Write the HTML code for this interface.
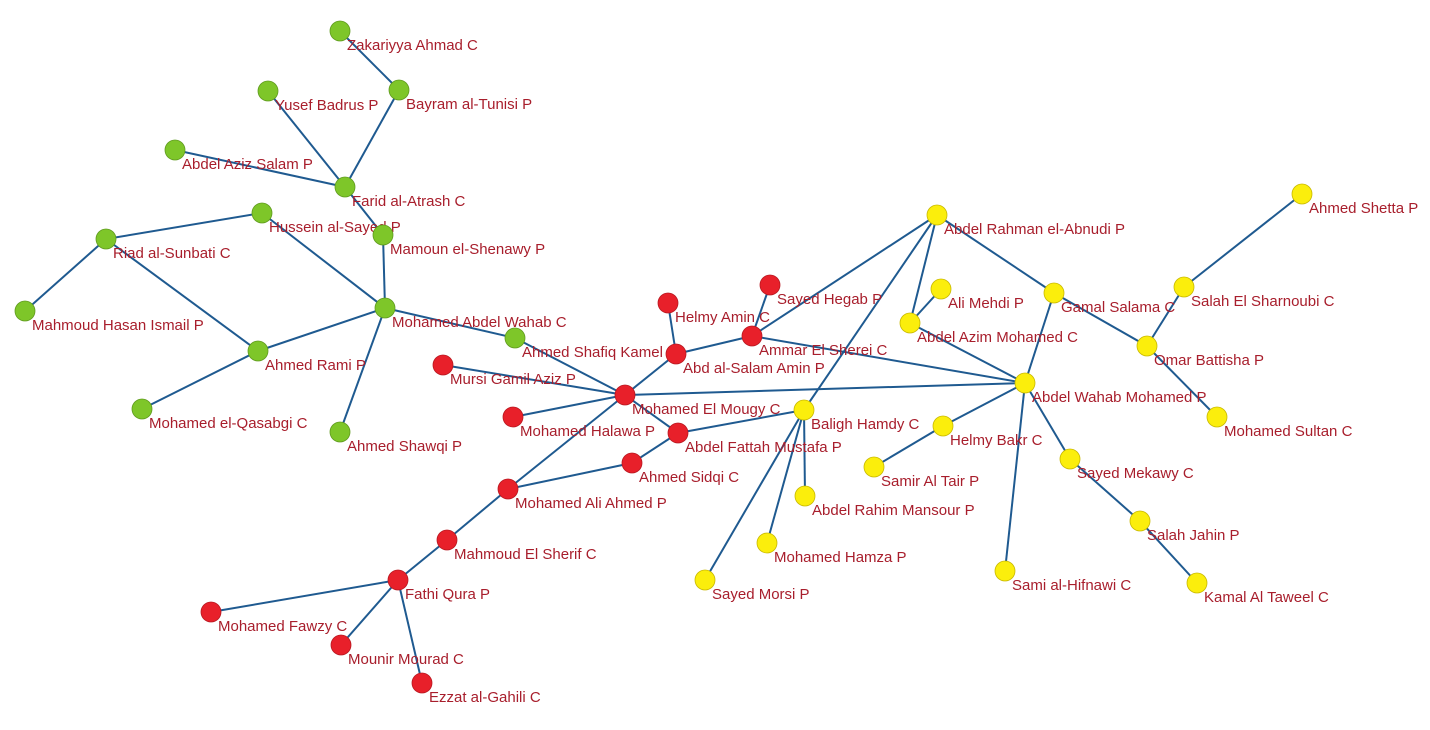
<!DOCTYPE html>
<html><head><meta charset="utf-8"><style>
html,body{margin:0;padding:0;background:#fff}
svg text{font-family:"Liberation Sans",sans-serif;font-size:15px;fill:#a81e2c}
</style></head><body>
<svg width="1430" height="725" xmlns="http://www.w3.org/2000/svg">
<g id="e" stroke="#1f5a90" stroke-width="2" fill="none"></g>
<g id="l"></g>
<g id="n" stroke-width="0.8"></g>
</svg>
<script>
var N={
za:[340,31,'Zakariyya Ahmad C','g'],ba:[399,90,'Bayram al-Tunisi P','g'],yb:[268,91,'Yusef Badrus P','g'],as:[175,150,'Abdel Aziz Salam P','g'],
fa:[345,187,'Farid al-Atrash C','g'],hs:[262,213,'Hussein al-Sayed P','g'],me:[383,235,'Mamoun el-Shenawy P','g'],rs:[106,239,'Riad al-Sunbati C','g'],
mh:[25,311,'Mahmoud Hasan Ismail P','g'],maw:[385,308,'Mohamed Abdel Wahab C','g'],sk:[515,338,'Ahmed Shafiq Kamel P','g'],ar:[258,351,'Ahmed Rami P','g'],
mq:[142,409,'Mohamed el-Qasabgi C','g'],sh:[340,432,'Ahmed Shawqi P','g'],
sg:[770,285,'Sayed Hegab P','r'],ha:[668,303,'Helmy Amin C','r'],am:[752,336,'Ammar El Sherei C','r'],asa:[676,354,'Abd al-Salam Amin P','r'],
mg:[443,365,'Mursi Gamil Aziz P','r'],mo:[625,395,'Mohamed El Mougy C','r'],hl:[513,417,'Mohamed Halawa P','r'],af:[678,433,'Abdel Fattah Mustafa P','r'],
sq:[632,463,'Ahmed Sidqi C','r'],ma:[508,489,'Mohamed Ali Ahmed P','r'],ms:[447,540,'Mahmoud El Sherif  C','r'],fq:[398,580,'Fathi Qura P','r'],
mf:[211,612,'Mohamed Fawzy C','r'],mm:[341,645,'Mounir Mourad C','r'],eg:[422,683,'Ezzat al-Gahili C','r'],
st:[1302,194,'Ahmed Shetta P','y'],ab:[937,215,'Abdel Rahman el-Abnudi P','y'],al:[941,289,'Ali Mehdi P','y'],gs:[1054,293,'Gamal Salama C','y'],
ss:[1184,287,'Salah El Sharnoubi C','y'],az:[910,323,'Abdel Azim Mohamed C','y'],ob:[1147,346,'Omar Battisha P','y'],aw:[1025,383,'Abdel Wahab Mohamed P','y'],
bh:[804,410,'Baligh Hamdy C','y'],su:[1217,417,'Mohamed Sultan C','y'],hb:[943,426,'Helmy Bakr C','y'],sm:[1070,459,'Sayed Mekawy C','y'],
sa:[874,467,'Samir Al Tair P','y'],rm:[805,496,'Abdel Rahim Mansour P','y'],sj:[1140,521,'Salah Jahin P','y'],hz:[767,543,'Mohamed Hamza P','y'],
sf:[1005,571,'Sami al-Hifnawi C','y'],sy:[705,580,'Sayed Morsi P','y'],kt:[1197,583,'Kamal Al Taweel C','y']};
var E='za-ba ba-fa yb-fa as-fa fa-me me-maw hs-rs hs-maw rs-mh rs-ar ar-maw ar-mq maw-sh maw-sk sk-mo mo-mg mo-hl mo-asa mo-af mo-ma mo-aw asa-ha asa-am am-sg am-ab am-aw af-bh af-sq sq-ma ma-ms ms-fq fq-mf fq-mm fq-eg ab-bh ab-az ab-gs gs-ob gs-aw al-az az-aw ob-ss ss-st ob-su aw-hb hb-sa aw-sm sm-sj sj-kt aw-sf bh-rm bh-hz bh-sy'.split(' ');
var ns='http://www.w3.org/2000/svg';
function el(t,a,p){var e=document.createElementNS(ns,t);for(var k in a)e.setAttribute(k,a[k]);p.appendChild(e);return e;}
var ge=document.getElementById('e'),gl=document.getElementById('l'),gn=document.getElementById('n');
E.forEach(function(s){var p=s.split('-'),a=N[p[0]],b=N[p[1]];el('line',{x1:a[0],y1:a[1],x2:b[0],y2:b[1]},ge);});
var C={g:['#7ec629','#5f9a1e'],r:['#e8202a','#b81820'],y:['#fbee0c','#c8b800']};
for(var k in N){var v=N[k];var t=el('text',{x:v[0]+7,y:v[1]+19},gl);t.textContent=v[2];
el('circle',{cx:v[0],cy:v[1],r:10,fill:C[v[3]][0],stroke:C[v[3]][1]},gn);}
</script>
</body></html>
